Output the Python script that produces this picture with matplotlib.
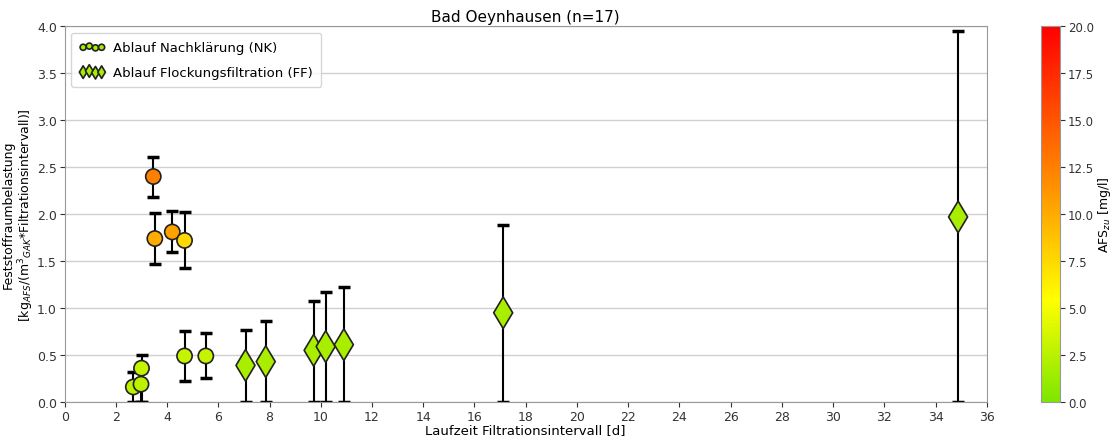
import numpy as np
import matplotlib.pyplot as plt
from matplotlib.colors import LinearSegmentedColormap

# Ablauf Nachklärung (NK)
nk_laufzeit = [2.68, 2.98, 3.0, 3.46, 3.52, 4.20, 4.68, 4.68, 5.51]
nk_belastung = [0.16, 0.19, 0.36, 2.40, 1.74, 1.81, 1.72, 0.49, 0.49]
nk_min = [0.0, 0.0, 0.0, 2.18, 1.47, 1.60, 1.43, 0.22, 0.26]
nk_max = [0.32, 0.32, 0.50, 2.61, 2.01, 2.03, 2.02, 0.76, 0.73]
nk_afs = [2.6, 2.6, 3.0, 12.5, 10.0, 10.5, 7.5, 3.0, 3.0]

# Ablauf Flockungsfiltration (FF)
ff_laufzeit = [7.06, 7.85, 9.72, 10.19, 10.90, 17.12, 34.88]
ff_belastung = [0.39, 0.43, 0.55, 0.59, 0.61, 0.95, 1.97]
ff_min = [0.0, 0.0, 0.0, 0.0, 0.0, 0.0, 0.0]
ff_max = [0.77, 0.86, 1.07, 1.17, 1.22, 1.88, 3.95]
ff_afs = [1.8, 1.8, 1.8, 1.8, 1.8, 1.8, 1.8]

cmap = LinearSegmentedColormap.from_list(
    "gruen_rot", [(0.0, "#7ee600"), (0.27, "#ffff00"), (0.55, "#ff9900"), (1.0, "#ff0000")])

fig = plt.figure(figsize=(11.15, 4.39), dpi=100)
ax = fig.add_axes([0.058, 0.082, 0.827, 0.856])
cax = fig.add_axes([0.934, 0.082, 0.017, 0.856])

for x, y, lo, hi in [(nk_laufzeit, nk_belastung, nk_min, nk_max),
                     (ff_laufzeit, ff_belastung, ff_min, ff_max)]:
    y = np.array(y)
    yerr = [y - np.array(lo), np.array(hi) - y]
    ax.errorbar(x, y, yerr=yerr, fmt='none', ecolor='black', elinewidth=1.5,
                capsize=4, capthick=2.5, zorder=2)

sc = ax.scatter(nk_laufzeit, nk_belastung, c=nk_afs, cmap=cmap, vmin=0, vmax=20,
                s=120, marker='o', edgecolors='#222222', linewidths=1.2, zorder=3,
                label="Ablauf Nachklärung (NK)")
ax.scatter(ff_laufzeit, ff_belastung, c=ff_afs, cmap=cmap, vmin=0, vmax=20,
           s=260, marker='d', edgecolors='#222222', linewidths=1.2, zorder=3,
           label="Ablauf Flockungsfiltration (FF)")

ax.set_xlim(0, 36)
ax.set_ylim(0, 4)
ax.set_xticks(np.arange(0, 37, 2))
ax.set_yticks(np.arange(0, 4.01, 0.5))
ax.yaxis.grid(True, color='#d0d0d0', linewidth=1)
ax.set_axisbelow(True)
for s in ax.spines.values():
    s.set_color('#999999')
ax.tick_params(colors='#333333', labelsize=9, pad=2)

ax.set_title("Bad Oeynhausen (n=17)", fontsize=11, pad=4)
ax.set_xlabel("Laufzeit Filtrationsintervall [d]", fontsize=9.5, labelpad=0)
ax.set_ylabel("Feststoffraumbelastung\n[kg$_{AFS}$/(m$^3$$_{GAK}$*Filtrationsintervall)]",
              fontsize=9, labelpad=1, linespacing=1.1)

leg = ax.legend(loc='upper left', scatterpoints=4, markerscale=0.4, fontsize=9.5,
                handletextpad=0.6, borderpad=0.6, labelspacing=0.9)
for h in leg.legend_handles:
    h.set_array(None)
    h.set_facecolor(cmap(1.8 / 20))

cb = fig.colorbar(sc, cax=cax)
cb.set_ticks(np.arange(0, 20.1, 2.5))
cb.ax.tick_params(labelsize=8.5, colors='#333333', pad=2)
cb.outline.set_edgecolor('#999999')
cb.set_label("AFS$_{zu}$ [mg/l]", fontsize=9, labelpad=1)

plt.savefig("out.png", dpi=100)
